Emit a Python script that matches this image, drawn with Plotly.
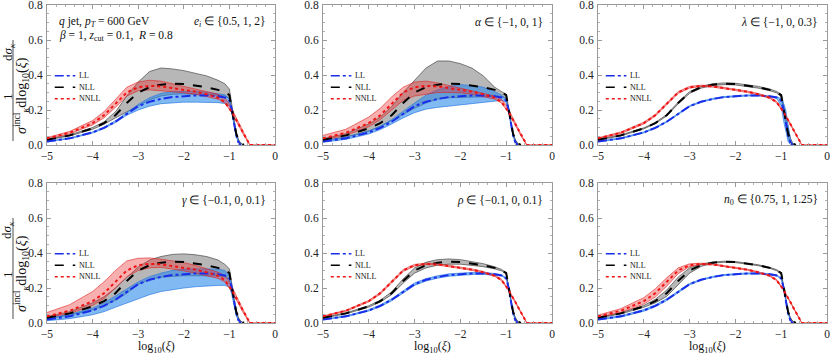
import plotly.graph_objects as go

# ---------------- data ----------------
X_LL = [-5, -4.5, -4, -3.75, -3.5, -3.25, -3, -2.75, -2.5, -2.25, -2, -1.75, -1.5, -1.25, -1.1, -1.0, -0.95, -0.9, -0.85, -0.8, -0.75]
X_NLL = X_LL + [-0.68]
X_NNLL = X_LL + [-0.7, -0.55, 0]

LL = [0.020, 0.038, 0.072, 0.098, 0.133, 0.178, 0.222, 0.247, 0.263, 0.274, 0.280, 0.283, 0.283, 0.279, 0.272, 0.255, 0.205, 0.125, 0.055, 0.015, 0.0]
NLL = [0.030, 0.055, 0.095, 0.125, 0.170, 0.240, 0.300, 0.330, 0.345, 0.350, 0.348, 0.340, 0.330, 0.315, 0.302, 0.285, 0.215, 0.130, 0.065, 0.030, 0.010, 0.0]
NNLL = [0.038, 0.070, 0.125, 0.170, 0.235, 0.300, 0.330, 0.338, 0.335, 0.325, 0.315, 0.305, 0.290, 0.270, 0.245, 0.210, 0.190, 0.165, 0.145, 0.120, 0.095, 0.070, 0.0, 0.0]

# panel 1: e_i
LL1_hi = [0.022, 0.040, 0.075, 0.102, 0.138, 0.185, 0.232, 0.270, 0.295, 0.305, 0.308, 0.307, 0.302, 0.295, 0.287, 0.265, 0.212, 0.130, 0.058, 0.016, 0.0]
LL1_lo = [0.018, 0.036, 0.068, 0.094, 0.128, 0.170, 0.200, 0.222, 0.236, 0.242, 0.245, 0.245, 0.244, 0.242, 0.237, 0.225, 0.185, 0.110, 0.048, 0.012, 0.0]
NLL1_hi = [0.032, 0.058, 0.100, 0.132, 0.190, 0.280, 0.360, 0.420, 0.440, 0.435, 0.425, 0.410, 0.395, 0.370, 0.350, 0.320, 0.230, 0.135, 0.068, 0.031, 0.010, 0.0]
NLL1_lo = [0.028, 0.052, 0.090, 0.118, 0.155, 0.190, 0.225, 0.258, 0.280, 0.290, 0.292, 0.290, 0.288, 0.285, 0.280, 0.265, 0.200, 0.120, 0.060, 0.028, 0.008, 0.0]
NNLL1_hi = [0.042, 0.078, 0.140, 0.190, 0.260, 0.330, 0.360, 0.370, 0.365, 0.350, 0.335, 0.320, 0.305, 0.290, 0.270, 0.235, 0.210, 0.180, 0.160, 0.130, 0.105, 0.078, 0.0, 0.0]
NNLL1_lo = [0.034, 0.064, 0.115, 0.155, 0.215, 0.280, 0.310, 0.315, 0.310, 0.305, 0.298, 0.290, 0.278, 0.262, 0.240, 0.205, 0.185, 0.160, 0.138, 0.112, 0.088, 0.062, 0.0, 0.0]

# panel 2: alpha
LL2_hi = [0.025, 0.045, 0.080, 0.108, 0.145, 0.195, 0.240, 0.285, 0.315, 0.335, 0.345, 0.340, 0.330, 0.305, 0.285, 0.262, 0.210, 0.128, 0.056, 0.016, 0.0]
LL2_lo = [0.016, 0.032, 0.063, 0.088, 0.120, 0.155, 0.185, 0.205, 0.215, 0.222, 0.228, 0.235, 0.240, 0.250, 0.255, 0.245, 0.195, 0.118, 0.050, 0.012, 0.0]
NLL2_hi = [0.035, 0.065, 0.120, 0.160, 0.220, 0.300, 0.370, 0.440, 0.480, 0.480, 0.465, 0.440, 0.395, 0.330, 0.305, 0.290, 0.220, 0.133, 0.067, 0.031, 0.010, 0.0]
NLL2_lo = [0.025, 0.045, 0.080, 0.105, 0.140, 0.175, 0.210, 0.240, 0.262, 0.270, 0.272, 0.275, 0.278, 0.280, 0.278, 0.265, 0.200, 0.120, 0.060, 0.027, 0.008, 0.0]
NNLL2_hi = [0.055, 0.090, 0.160, 0.210, 0.275, 0.330, 0.360, 0.365, 0.355, 0.340, 0.325, 0.310, 0.295, 0.280, 0.260, 0.230, 0.205, 0.178, 0.155, 0.128, 0.100, 0.075, 0.0, 0.0]
NNLL2_lo = [0.030, 0.055, 0.105, 0.145, 0.200, 0.255, 0.280, 0.290, 0.300, 0.300, 0.298, 0.290, 0.278, 0.262, 0.240, 0.205, 0.185, 0.160, 0.138, 0.112, 0.088, 0.062, 0.0, 0.0]

# panel 3: lambda
LL3_hi = [0.022, 0.041, 0.075, 0.101, 0.136, 0.181, 0.225, 0.250, 0.266, 0.277, 0.283, 0.286, 0.286, 0.282, 0.276, 0.265, 0.240, 0.200, 0.110, 0.035, 0.0]
LL3_lo = [0.018, 0.035, 0.069, 0.095, 0.130, 0.175, 0.219, 0.244, 0.260, 0.271, 0.277, 0.280, 0.280, 0.276, 0.266, 0.225, 0.140, 0.070, 0.020, 0.003, 0.0]
NLL3_hi = [0.032, 0.058, 0.098, 0.128, 0.174, 0.245, 0.305, 0.335, 0.350, 0.355, 0.353, 0.345, 0.335, 0.320, 0.306, 0.290, 0.235, 0.160, 0.090, 0.040, 0.012, 0.0]
NLL3_lo = [0.028, 0.052, 0.092, 0.122, 0.166, 0.235, 0.295, 0.325, 0.340, 0.345, 0.343, 0.335, 0.325, 0.310, 0.298, 0.275, 0.190, 0.105, 0.045, 0.018, 0.006, 0.0]
NNLL3_hi = [0.041, 0.074, 0.130, 0.175, 0.240, 0.305, 0.335, 0.342, 0.339, 0.329, 0.319, 0.309, 0.294, 0.274, 0.249, 0.214, 0.194, 0.169, 0.149, 0.124, 0.099, 0.074, 0.0, 0.0]
NNLL3_lo = [0.035, 0.066, 0.120, 0.165, 0.230, 0.295, 0.325, 0.334, 0.331, 0.321, 0.311, 0.301, 0.286, 0.266, 0.241, 0.206, 0.186, 0.161, 0.141, 0.116, 0.091, 0.066, 0.0, 0.0]

# panel 4: gamma
LL4_hi = [0.028, 0.050, 0.085, 0.115, 0.155, 0.195, 0.235, 0.265, 0.285, 0.300, 0.308, 0.310, 0.310, 0.308, 0.300, 0.275, 0.220, 0.135, 0.060, 0.017, 0.0]
LL4_lo = [0.013, 0.025, 0.047, 0.065, 0.090, 0.115, 0.140, 0.162, 0.180, 0.192, 0.200, 0.207, 0.212, 0.215, 0.215, 0.205, 0.165, 0.100, 0.042, 0.010, 0.0]
NLL4_hi = [0.036, 0.065, 0.115, 0.150, 0.200, 0.260, 0.320, 0.360, 0.380, 0.392, 0.395, 0.390, 0.380, 0.360, 0.335, 0.310, 0.225, 0.135, 0.068, 0.031, 0.010, 0.0]
NLL4_lo = [0.024, 0.045, 0.075, 0.100, 0.130, 0.170, 0.220, 0.250, 0.262, 0.268, 0.270, 0.270, 0.270, 0.268, 0.265, 0.250, 0.185, 0.110, 0.055, 0.025, 0.007, 0.0]
NNLL4_hi = [0.060, 0.105, 0.180, 0.235, 0.300, 0.355, 0.370, 0.372, 0.365, 0.355, 0.345, 0.330, 0.310, 0.290, 0.270, 0.235, 0.210, 0.182, 0.160, 0.130, 0.103, 0.077, 0.0, 0.0]
NNLL4_lo = [0.032, 0.055, 0.100, 0.140, 0.200, 0.265, 0.300, 0.315, 0.318, 0.310, 0.298, 0.285, 0.272, 0.255, 0.235, 0.200, 0.180, 0.155, 0.135, 0.110, 0.085, 0.060, 0.0, 0.0]

# panel 5: rho
LL5_hi = [0.022, 0.041, 0.076, 0.103, 0.139, 0.185, 0.229, 0.254, 0.270, 0.281, 0.287, 0.289, 0.288, 0.283, 0.275, 0.258, 0.208, 0.128, 0.057, 0.016, 0.0]
LL5_lo = [0.018, 0.035, 0.068, 0.093, 0.127, 0.171, 0.215, 0.240, 0.256, 0.267, 0.273, 0.277, 0.278, 0.275, 0.269, 0.252, 0.202, 0.122, 0.053, 0.014, 0.0]
NLL5_hi = [0.032, 0.058, 0.099, 0.130, 0.178, 0.252, 0.315, 0.347, 0.362, 0.366, 0.362, 0.352, 0.339, 0.321, 0.306, 0.288, 0.218, 0.132, 0.066, 0.031, 0.010, 0.0]
NLL5_lo = [0.028, 0.052, 0.091, 0.120, 0.162, 0.228, 0.285, 0.315, 0.330, 0.336, 0.336, 0.330, 0.322, 0.309, 0.298, 0.282, 0.212, 0.128, 0.064, 0.029, 0.010, 0.0]
NNLL5_hi = [0.040, 0.073, 0.129, 0.175, 0.240, 0.305, 0.335, 0.342, 0.339, 0.329, 0.319, 0.309, 0.294, 0.274, 0.249, 0.214, 0.194, 0.169, 0.149, 0.124, 0.099, 0.074, 0.0, 0.0]
NNLL5_lo = [0.036, 0.067, 0.121, 0.165, 0.230, 0.295, 0.325, 0.334, 0.331, 0.321, 0.311, 0.301, 0.286, 0.266, 0.241, 0.206, 0.186, 0.161, 0.141, 0.116, 0.091, 0.066, 0.0, 0.0]

# panel 6: n0
LL6_hi = [0.023, 0.042, 0.077, 0.103, 0.138, 0.183, 0.226, 0.250, 0.266, 0.277, 0.283, 0.286, 0.286, 0.282, 0.275, 0.258, 0.208, 0.128, 0.057, 0.016, 0.0]
LL6_lo = [0.017, 0.034, 0.067, 0.093, 0.128, 0.173, 0.218, 0.244, 0.260, 0.271, 0.277, 0.280, 0.280, 0.276, 0.269, 0.252, 0.202, 0.122, 0.053, 0.014, 0.0]
NLL6_hi = [0.032, 0.058, 0.100, 0.135, 0.188, 0.262, 0.315, 0.337, 0.348, 0.353, 0.351, 0.343, 0.333, 0.318, 0.305, 0.288, 0.218, 0.132, 0.066, 0.031, 0.010, 0.0]
NLL6_lo = [0.028, 0.052, 0.090, 0.115, 0.152, 0.218, 0.285, 0.323, 0.342, 0.347, 0.345, 0.337, 0.327, 0.312, 0.299, 0.282, 0.212, 0.128, 0.064, 0.029, 0.010, 0.0]
NNLL6_hi = [0.045, 0.082, 0.145, 0.195, 0.258, 0.315, 0.338, 0.342, 0.338, 0.328, 0.318, 0.308, 0.293, 0.273, 0.248, 0.213, 0.193, 0.168, 0.148, 0.123, 0.098, 0.073, 0.0, 0.0]
NNLL6_lo = [0.033, 0.060, 0.108, 0.148, 0.210, 0.282, 0.322, 0.334, 0.332, 0.322, 0.312, 0.302, 0.287, 0.267, 0.242, 0.207, 0.187, 0.162, 0.142, 0.117, 0.092, 0.067, 0.0, 0.0]

PANEL_LABELS = [
    "<i>e<sub>i</sub></i> ∈ {0.5, 1, 2}",
    "<i>α</i> ∈ {−1, 0, 1}",
    "<i>λ</i> ∈ {−1, 0, 0.3}",
    "<i>γ</i> ∈ {−0.1, 0, 0.1}",
    "<i>ρ</i> ∈ {−0.1, 0, 0.1}",
    "<i>n</i><sub>0</sub> ∈ {0.75, 1, 1.25}",
]
LEGEND_NAMES = ["LL", "NLL", "NNLL"]
X_TICKS = [-5, -4, -3, -2, -1, 0]
X_TICK_TEXT = ["−5", "−4", "−3", "−2", "−1", "0"]
Y_TICKS = [0.0, 0.2, 0.4, 0.6, 0.8]
Y_TICK_TEXT = ["0.0", "0.2", "0.4", "0.6", "0.8"]

BANDS = [
    (LL1_hi, LL1_lo, NLL1_hi, NLL1_lo, NNLL1_hi, NNLL1_lo),
    (LL2_hi, LL2_lo, NLL2_hi, NLL2_lo, NNLL2_hi, NNLL2_lo),
    (LL3_hi, LL3_lo, NLL3_hi, NLL3_lo, NNLL3_hi, NNLL3_lo),
    (LL4_hi, LL4_lo, NLL4_hi, NLL4_lo, NNLL4_hi, NNLL4_lo),
    (LL5_hi, LL5_lo, NLL5_hi, NLL5_lo, NNLL5_hi, NNLL5_lo),
    (LL6_hi, LL6_lo, NLL6_hi, NLL6_lo, NNLL6_hi, NNLL6_lo),
]

# ---------------- styling ----------------
FONT = "Liberation Serif"
BLUE_FILL, BLUE_EDGE, BLUE_LINE = "rgba(45,140,235,0.6)", "rgba(35,115,225,0.9)", "rgb(25,45,235)"
GRAY_FILL, GRAY_EDGE = "rgba(95,95,95,0.45)", "rgba(55,55,55,0.9)"
RED_FILL, RED_EDGE, RED_LINE = "rgba(235,45,45,0.38)", "rgba(225,30,30,0.85)", "rgb(240,20,20)"

# layout geometry (pixels), zero margins so nothing pushes the plot area
W, H = 830, 357
cols_px = [(47, 275), (323, 552), (598, 827)]
rows_px = [(5, 145), (183, 323)]


def px_x(p):
    return p / W


def px_y(p):
    return (H - p) / H


fig = go.Figure()
layout_axes = {}
annotations = []
shapes = []

for i in range(6):
    r, c = divmod(i, 3)
    xs = "" if i == 0 else str(i + 1)
    xa, ya = "x" + xs, "y" + xs
    x0, x1 = cols_px[c]
    y0, y1 = rows_px[r]
    common = dict(showgrid=False, zeroline=False, showline=True, linecolor="#9a9a9a", linewidth=1,
                  mirror="allticks", ticks="inside", ticklen=4, tickcolor="#9a9a9a", tickwidth=1,
                  automargin=False, ticklabeloverflow="allow",
                  tickfont=dict(family=FONT, size=11.5, color="#222"))
    layout_axes["xaxis" + xs] = dict(common, domain=[px_x(x0), px_x(x1)], anchor=ya, range=[-5, 0],
                                     tickvals=X_TICKS, ticktext=X_TICK_TEXT, ticklabelstandoff=0,
                                     minor=dict(dtick=0.2, ticklen=2, tickcolor="#b0b0b0", ticks="inside"))
    layout_axes["yaxis" + xs] = dict(common, domain=[px_y(y1), px_y(y0)], anchor=xa, range=[0, 0.8],
                                     tickvals=Y_TICKS, ticktext=Y_TICK_TEXT, ticklabelstandoff=1,
                                     minor=dict(dtick=0.05, ticklen=2, tickcolor="#b0b0b0", ticks="inside"))

    llh, lll, nlh, nll_, nnh, nnl = BANDS[i]
    for xv, lo, hi, fill, edge in [(X_NLL, nll_, nlh, GRAY_FILL, GRAY_EDGE),
                                   (X_LL, lll, llh, BLUE_FILL, BLUE_EDGE),
                                   (X_NNLL, nnl, nnh, RED_FILL, RED_EDGE)]:
        fig.add_trace(go.Scatter(x=xv, y=lo, mode="lines", line=dict(color=edge, width=0.7),
                                 showlegend=False, hoverinfo="skip", xaxis=xa, yaxis=ya))
        fig.add_trace(go.Scatter(x=xv, y=hi, mode="lines", line=dict(color=edge, width=0.7),
                                 fill="tonexty", fillcolor=fill,
                                 showlegend=False, hoverinfo="skip", xaxis=xa, yaxis=ya))
    fig.add_trace(go.Scatter(x=X_LL, y=LL, mode="lines", line=dict(color=BLUE_LINE, width=2, dash="dashdot"),
                             showlegend=False, name="LL", xaxis=xa, yaxis=ya))
    fig.add_trace(go.Scatter(x=X_NLL, y=NLL, mode="lines", line=dict(color="black", width=2, dash="dash"),
                             showlegend=False, name="NLL", xaxis=xa, yaxis=ya))
    fig.add_trace(go.Scatter(x=X_NNLL, y=NNLL, mode="lines", line=dict(color=RED_LINE, width=2, dash="dot"),
                             showlegend=False, name="NNLL", xaxis=xa, yaxis=ya))

    # panel label
    annotations.append(dict(text=PANEL_LABELS[i], xref=xa + " domain", yref=ya, x=0.97, y=0.70,
                            xanchor="right", yanchor="middle", showarrow=False,
                            font=dict(family=FONT, size=11.5, color="#111")))
    # in-panel legend
    for k, (nm, col, dash) in enumerate([("LL", BLUE_LINE, "dashdot"), ("NLL", "black", "dash"),
                                         ("NNLL", RED_LINE, "dot")]):
        yy = [0.396, 0.330, 0.264][k]
        shapes.append(dict(type="line", xref=xa, yref=ya, x0=-4.83, x1=-4.38, y0=yy, y1=yy,
                           line=dict(color=col, width=1.5, dash=dash)))
        annotations.append(dict(text=nm, xref=xa, yref=ya, x=-4.34, y=yy, xanchor="left",
                                yanchor="middle", showarrow=False,
                                font=dict(family=FONT, size=8, color="#111")))

    # y-axis title (fraction), left column only
    if c == 0:
        off = 0 if r == 0 else 178
        annotations.append(dict(text="d<i>σ</i><sub><i>κ</i></sub>", xref="paper", yref="paper",
                                x=px_x(8), y=px_y(52 + off), textangle=-90, showarrow=False,
                                xanchor="center", yanchor="middle",
                                font=dict(family=FONT, size=13, color="#111")))
        annotations.append(dict(text="1", xref="paper", yref="paper",
                                x=px_x(7), y=px_y(97 + off), textangle=-90, showarrow=False,
                                xanchor="center", yanchor="middle",
                                font=dict(family=FONT, size=13, color="#111")))
        annotations.append(dict(text="<i>σ</i><sup>incl</sup><sub><i>κ</i></sub>dlog<sub>10</sub>(<i>ξ</i>)",
                                xref="paper", yref="paper",
                                x=px_x(21), y=px_y(96 + off), textangle=-90, showarrow=False,
                                xanchor="center", yanchor="middle",
                                font=dict(family=FONT, size=14, color="#111")))
        shapes.append(dict(type="line", xref="paper", yref="paper", x0=px_x(13), x1=px_x(13),
                           y0=px_y(40 + off), y1=px_y(141 + off), line=dict(color="#222", width=0.8)))
    # x-axis title, bottom row
    if r == 1:
        annotations.append(dict(text="log<sub>10</sub>(<i>ξ</i>)", xref=xa + " domain", yref="paper",
                                x=0.48, y=px_y(347), xanchor="center", yanchor="middle", showarrow=False,
                                font=dict(family=FONT, size=12, color="#111")))

# header text in panel 1
annotations.append(dict(text="<i>q</i> jet, <i>p<sub>T</sub></i> = 600 GeV", xref="x domain", yref="y",
                        x=0.045, y=0.70, xanchor="left", yanchor="middle", showarrow=False,
                        font=dict(family=FONT, size=11.5, color="#111")))
annotations.append(dict(text="<i>β</i> = 1, <i>z</i><sub>cut</sub> = 0.1,  <i>R</i> = 0.8", xref="x domain", yref="y",
                        x=0.045, y=0.625, xanchor="left", yanchor="middle", showarrow=False,
                        font=dict(family=FONT, size=11.5, color="#111")))

fig.update_layout(width=W, height=H, margin=dict(l=0, r=0, t=0, b=0, autoexpand=False),
                  paper_bgcolor="white", plot_bgcolor="white", showlegend=False,
                  annotations=annotations, shapes=shapes, **layout_axes)
fig.write_html("out.html", config={"displayModeBar": False},
               post_script="document.body.style.margin='0';document.body.style.padding='0';"
                           "document.body.style.overflow='hidden';")
